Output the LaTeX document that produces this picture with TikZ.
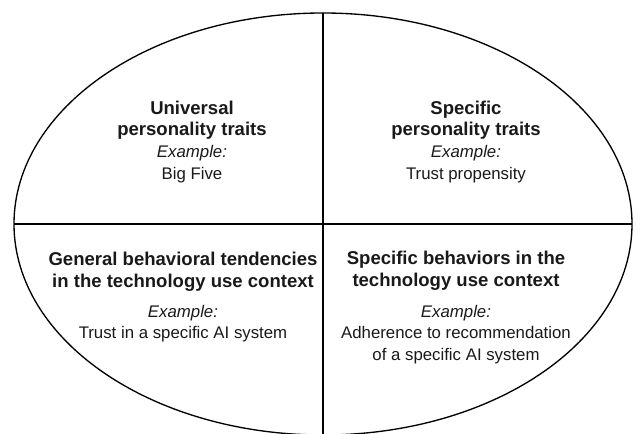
\documentclass[tikz,border=0pt]{standalone}
\usepackage{fontspec}
\setmainfont{Liberation Sans}
\usetikzlibrary{shapes.geometric}
\begin{document}
\begin{tikzpicture}[x=0.75pt,y=-0.75pt,
  divider/.style={line width=1pt,draw=black},
  heading/.style={font=\bfseries\fontsize{13.9pt}{16.3pt}\selectfont,align=center,anchor=base,inner sep=0pt,text=black!90},
  example/.style={font=\fontsize{12.6pt}{16.3pt}\selectfont,align=center,anchor=base,inner sep=0pt,text=black!90}]
\useasboundingbox (0,0) rectangle (636,434);
% outer ellipse split into four quadrants
\node[ellipse,draw,line width=1pt,inner sep=0pt,outer sep=0pt,
      minimum width=463.5pt,minimum height=316.5pt] (oval) at (323,224) {};
\draw[divider] (oval.north) -- (oval.south);
\draw[divider] (oval.west) -- (oval.east);
% upper left (anchored at the baseline of the last line)
\node[heading] (ulT) at (192,136) {Universal\\personality traits};
\node[example] (ulE) at (192,179.5) {\textit{Example:}\\Big Five};
% upper right
\node[heading] (urT) at (466,136) {Specific\\personality traits};
\node[example] (urE) at (466,179.5) {\textit{Example:}\\Trust propensity};
% lower left
\node[heading] (llT) at (183,287.5) {General behavioral tendencies\\in the technology use context};
\node[example] (llE) at (183,339) {\textit{Example:}\\Trust in a specific AI system};
% lower right
\node[heading] (lrT) at (456,286.5) {Specific behaviors in the\\technology use context};
\node[example] (lrE) at (456,360.5) {\textit{Example:}\\Adherence to recommendation\\of a specific AI system};
\end{tikzpicture}
\end{document}
